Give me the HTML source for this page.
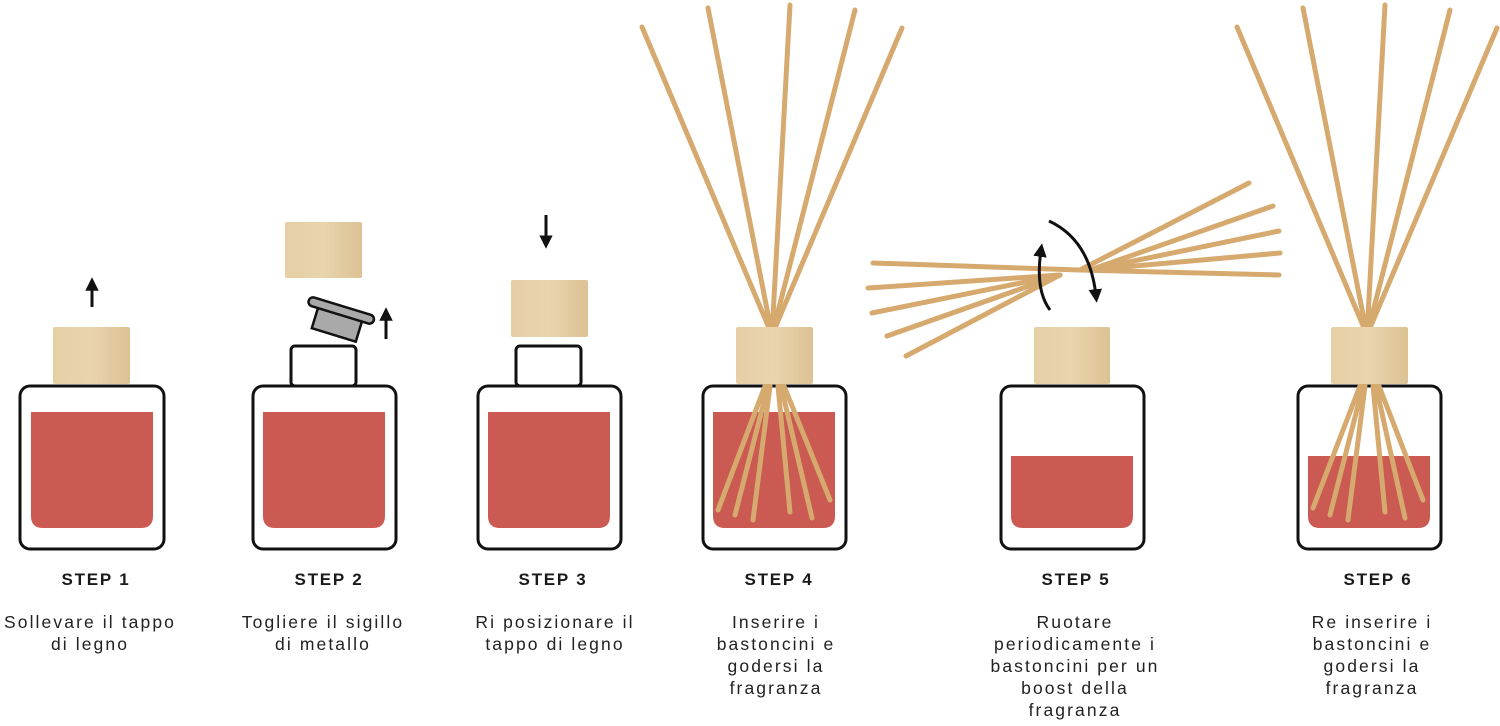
<!DOCTYPE html>
<html><head><meta charset="utf-8"><style>
html,body{margin:0;padding:0;background:#fff;width:1500px;height:726px;overflow:hidden}
svg{display:block}
.lbl{font-family:"Liberation Sans",sans-serif;font-weight:bold;font-size:17px;letter-spacing:1.8px;fill:#1a1a1a}
.d{font-family:"Liberation Sans",sans-serif;font-size:17.5px;letter-spacing:2.1px;fill:#222}
</style></head><body>
<svg width="1500" height="726" viewBox="0 0 1500 726" xmlns="http://www.w3.org/2000/svg">
<defs>
<linearGradient id="wood" x1="0" y1="0" x2="1" y2="0">
<stop offset="0" stop-color="#e6cfa4"/><stop offset="0.5" stop-color="#e9d4ad"/><stop offset="1" stop-color="#dcc293"/>
</linearGradient>
<marker id="ah" viewBox="0 0 10 10" refX="5" refY="5" markerWidth="4.5" markerHeight="4.5" orient="auto-start-reverse"><path d="M0,0 L10,5 L0,10 z" fill="#111"/></marker>
</defs>
<g fill="none" stroke="#111" stroke-width="3">
<rect x="20" y="386" width="144" height="163" rx="10" fill="#fff"/>
<rect x="253" y="386" width="143" height="163" rx="10" fill="#fff"/>
<rect x="291" y="346" width="65" height="40" rx="4" fill="#fff"/>
<rect x="478" y="386" width="143" height="163" rx="10" fill="#fff"/>
<rect x="516" y="346" width="65" height="40" rx="4" fill="#fff"/>
<rect x="703" y="386" width="143" height="163" rx="10" fill="#fff"/>
<rect x="1001" y="386" width="143" height="163" rx="10" fill="#fff"/>
<rect x="1298" y="386" width="143" height="163" rx="10" fill="#fff"/>
</g>
<g fill="#cb5a52">
<path d="M31 412H153V516Q153 528 141 528H43Q31 528 31 516Z"/>
<path d="M263 412H385V516Q385 528 373 528H275Q263 528 263 516Z"/>
<path d="M488 412H610V516Q610 528 598 528H500Q488 528 488 516Z"/>
<path d="M713 412H835V516Q835 528 823 528H725Q713 528 713 516Z"/>
<path d="M1011 456H1133V516Q1133 528 1121 528H1023Q1011 528 1011 516Z"/>
<path d="M1308 456H1430V516Q1430 528 1418 528H1320Q1308 528 1308 516Z"/>
</g>
<g fill="url(#wood)">
<rect x="53" y="327" width="77" height="57" rx="2"/>
<rect x="285" y="222" width="77" height="56" rx="2"/>
<rect x="511" y="280" width="77" height="57" rx="2"/>
</g>
<g transform="translate(340,318) rotate(17)" stroke="#111" stroke-width="2.5" fill="#a9a9a9">
<rect x="-24" y="-4" width="46" height="22"/>
<rect x="-35" y="-12" width="68" height="9" rx="4.5"/>
</g>
<g stroke="#111" stroke-width="3" marker-end="url(#ah)">
<line x1="92" y1="307" x2="92" y2="284"/>
<line x1="386" y1="339" x2="386" y2="314"/>
<line x1="546" y1="215" x2="546" y2="242"/>
</g>
<g stroke="#d6a96f" stroke-width="5" stroke-linecap="round">
<line x1="772" y1="335" x2="642" y2="27"/>
<line x1="772" y1="335" x2="708" y2="8"/>
<line x1="772" y1="335" x2="790" y2="5"/>
<line x1="772" y1="335" x2="855" y2="10"/>
<line x1="772" y1="335" x2="902" y2="28"/>
<line x1="765" y1="386" x2="718" y2="510"/>
<line x1="768" y1="386" x2="735" y2="515"/>
<line x1="770" y1="386" x2="753" y2="520"/>
<line x1="778" y1="386" x2="790" y2="512"/>
<line x1="781" y1="386" x2="812" y2="518"/>
<line x1="784" y1="386" x2="830" y2="500"/>
</g>
<rect x="736" y="327" width="77" height="57" rx="2" fill="url(#wood)"/>
<g stroke="#d6a96f" stroke-width="5" stroke-linecap="round">
<line x1="1367" y1="335" x2="1237" y2="27"/>
<line x1="1367" y1="335" x2="1303" y2="8"/>
<line x1="1367" y1="335" x2="1385" y2="5"/>
<line x1="1367" y1="335" x2="1450" y2="10"/>
<line x1="1367" y1="335" x2="1497" y2="28"/>
<line x1="1360" y1="386" x2="1313" y2="508"/>
<line x1="1363" y1="386" x2="1330" y2="515"/>
<line x1="1365" y1="386" x2="1348" y2="520"/>
<line x1="1373" y1="386" x2="1385" y2="512"/>
<line x1="1376" y1="386" x2="1405" y2="518"/>
<line x1="1379" y1="386" x2="1423" y2="500"/>
</g>
<rect x="1331" y="327" width="77" height="57" rx="2" fill="url(#wood)"/>
<rect x="1034" y="327" width="76" height="57" rx="2" fill="url(#wood)"/>
<g stroke="#d6a96f" stroke-width="5" stroke-linecap="round">
<line x1="1080" y1="270" x2="873" y2="263"/>
<line x1="1060" y1="275" x2="868" y2="288"/>
<line x1="1060" y1="275" x2="872" y2="313"/>
<line x1="1060" y1="275" x2="887" y2="336"/>
<line x1="1060" y1="275" x2="906" y2="356"/>
<line x1="1080" y1="270" x2="1249" y2="183"/>
<line x1="1090" y1="270" x2="1273" y2="206"/>
<line x1="1090" y1="270" x2="1279" y2="231"/>
<line x1="1090" y1="270" x2="1280" y2="253"/>
<line x1="1080" y1="270" x2="1279" y2="275"/>
</g>
<g fill="none" stroke="#111" stroke-width="3">
<path d="M1050 310 Q1035 290 1041 250" marker-end="url(#ah)"/>
<path d="M1049 221 Q1090 240 1096 296" marker-end="url(#ah)"/>
</g>
<text class="lbl" x="96" y="585" text-anchor="middle">STEP 1</text>
<text class="lbl" x="329" y="585" text-anchor="middle">STEP 2</text>
<text class="lbl" x="553" y="585" text-anchor="middle">STEP 3</text>
<text class="lbl" x="779" y="585" text-anchor="middle">STEP 4</text>
<text class="lbl" x="1076" y="585" text-anchor="middle">STEP 5</text>
<text class="lbl" x="1378" y="585" text-anchor="middle">STEP 6</text>
<g class="d" text-anchor="middle">
<text x="90" y="628">Sollevare il tappo</text><text x="90" y="650">di legno</text>
<text x="323" y="628">Togliere il sigillo</text><text x="323" y="650">di metallo</text>
<text x="555" y="628">Ri posizionare il</text><text x="555" y="650">tappo di legno</text>
<text x="776" y="628">Inserire i</text><text x="776" y="650">bastoncini e</text><text x="776" y="672">godersi la</text><text x="776" y="694">fragranza</text>
<text x="1075" y="628">Ruotare</text><text x="1075" y="650">periodicamente i</text><text x="1075" y="672">bastoncini per un</text><text x="1075" y="694">boost della</text><text x="1075" y="716">fragranza</text>
<text x="1372" y="628">Re inserire i</text><text x="1372" y="650">bastoncini e</text><text x="1372" y="672">godersi la</text><text x="1372" y="694">fragranza</text>
</g>
</svg>
</body></html>
